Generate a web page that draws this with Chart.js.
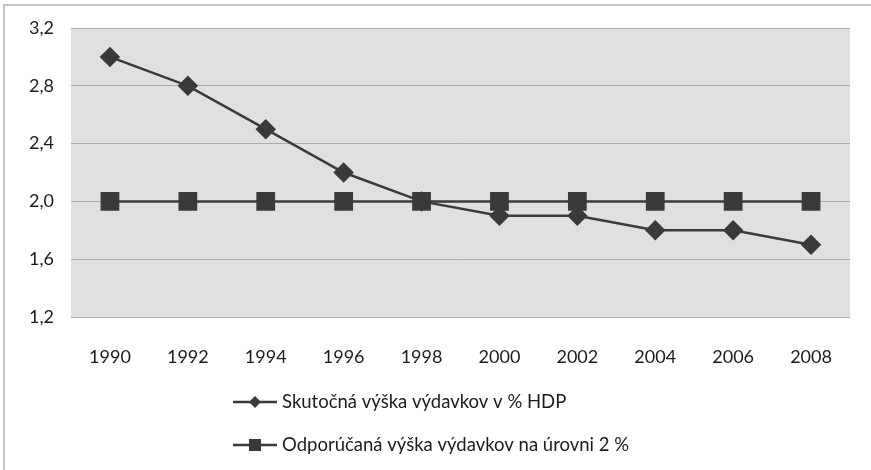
<!DOCTYPE html>
<html>
<head>
<meta charset="utf-8">
<script src="https://cdn.jsdelivr.net/npm/chart.js@4/dist/chart.umd.min.js"></script>
<style>
  html, body { margin: 0; padding: 0; background: #fff; }
  #wrap { position: relative; width: 871px; height: 470px; }
</style>
</head>
<body>
<div id="wrap"><canvas id="vydavkyChart" width="871" height="470"></canvas></div>
<script>
// Výdavky v % HDP
const roky = ['1990', '1992', '1994', '1996', '1998', '2000', '2002', '2004', '2006', '2008'];
const skutocna = [3.0, 2.8, 2.5, 2.2, 2.0, 1.9, 1.9, 1.8, 1.8, 1.7];
const odporucana = [2.0, 2.0, 2.0, 2.0, 2.0, 2.0, 2.0, 2.0, 2.0, 2.0];
const yTicks = [1.2, 1.6, 2.0, 2.4, 2.8, 3.2];

const FONT = 'Lato, "Open Sans", sans-serif';
const LINE = '#3a3a3a';
const TEXT = '#1c1c1c';

// sivé pozadie, rámik a legenda pod grafom
const excelLook = {
    id: 'excelLook',
    beforeDraw(chart) {
        const { ctx, chartArea: a } = chart;
        ctx.save();
        ctx.fillStyle = '#e0e0e0';
        ctx.fillRect(a.left, a.top, a.right - a.left, a.bottom - a.top);
        ctx.strokeStyle = '#c4c4c4';
        ctx.lineWidth = 2;
        ctx.beginPath();
        ctx.moveTo(4, 470);
        ctx.lineTo(4, 5);
        ctx.lineTo(871, 5);
        ctx.stroke();
        ctx.restore();
    },
    afterDraw(chart) {
        const ctx = chart.ctx;
        const rows = [402, 445];
        ctx.save();
        chart.data.datasets.forEach((ds, i) => {
            const y = rows[i];
            ctx.strokeStyle = ds.borderColor;
            ctx.lineWidth = 2.5;
            ctx.beginPath();
            ctx.moveTo(233, y);
            ctx.lineTo(277, y);
            ctx.stroke();
            ctx.fillStyle = ds.pointBackgroundColor;
            ctx.beginPath();
            if (ds.pointStyle === 'rectRot') {
                ctx.moveTo(255, y - 6); ctx.lineTo(261, y); ctx.lineTo(255, y + 6); ctx.lineTo(249, y);
            } else {
                ctx.rect(249, y - 6, 12, 12);
            }
            ctx.fill();
            ctx.fillStyle = TEXT;
            ctx.font = '18.5px ' + FONT;
            ctx.textBaseline = 'middle';
            ctx.fillText(ds.label, 282, y);
        });
        ctx.restore();
    }
};

new Chart(document.getElementById('vydavkyChart'), {
    type: 'line',
    data: {
        labels: roky,
        datasets: [{
            label: 'Skutočná výška výdavkov v % HDP',
            data: skutocna,
            borderColor: LINE,
            backgroundColor: LINE,
            pointBackgroundColor: LINE,
            pointBorderColor: LINE,
            borderWidth: 2.5,
            pointStyle: 'rectRot',
            pointRadius: 8.5,
            order: 2
        }, {
            label: 'Odporúčaná výška výdavkov na úrovni 2 %',
            data: odporucana,
            borderColor: LINE,
            backgroundColor: LINE,
            pointBackgroundColor: LINE,
            pointBorderColor: LINE,
            borderWidth: 2.5,
            pointStyle: 'rect',
            pointRadius: 11.5,
            order: 1
        }]
    },
    options: {
        responsive: false,
        animation: false,
        layout: { padding: { top: 28, right: 21, left: 0, bottom: 0 } },
        plugins: {
            legend: { display: false },
            tooltip: { enabled: false }
        },
        scales: {
            x: {
                offset: true,
                grid: { display: false },
                border: { display: false },
                ticks: { color: TEXT, font: { size: 18, family: FONT }, padding: 21 },
                afterFit(s) { s.height = 153; }
            },
            y: {
                min: 1.2,
                max: 3.2,
                afterBuildTicks(s) { s.ticks = yTicks.map(v => ({ value: v })); },
                grid: { color: '#ababab', lineWidth: 1, drawTicks: false },
                border: { display: false },
                ticks: {
                    color: TEXT,
                    font: { size: 18, family: FONT },
                    padding: 17,
                    callback: v => v.toFixed(1).replace('.', ',')
                },
                afterFit(s) { s.width = 71; }
            }
        }
    },
    plugins: [excelLook]
});
</script>
</body>
</html>
